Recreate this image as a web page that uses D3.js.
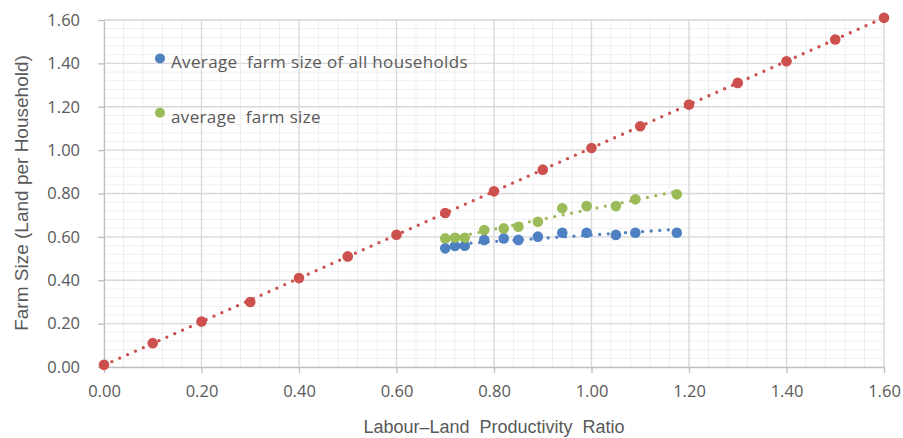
<!DOCTYPE html>
<html>
<head>
<meta charset="utf-8">
<script src="https://cdn.jsdelivr.net/npm/d3@7"></script>
<style>
  html, body { margin: 0; padding: 0; background: #fff; }
  svg { display: block; }
  text { fill: #595959; }
</style>
</head>
<body>
<svg id="chart" width="903" height="438"></svg>
<script>
// ---- data ----
const ratioLine = [0.00, 0.10, 0.20, 0.30, 0.40, 0.50, 0.60, 0.70, 0.80, 0.90, 1.00, 1.10, 1.20, 1.30, 1.40, 1.50, 1.60];
const sizeLine  = [0.01, 0.11, 0.21, 0.30, 0.41, 0.51, 0.61, 0.71, 0.81, 0.91, 1.01, 1.11, 1.21, 1.31, 1.41, 1.51, 1.61];

const ratioObs   = [0.70, 0.72, 0.74, 0.78, 0.82, 0.85, 0.89, 0.94, 0.99, 1.05, 1.09, 1.175];
const sizeAll    = [0.547, 0.558, 0.559, 0.586, 0.593, 0.586, 0.601, 0.619, 0.619, 0.609, 0.619, 0.619];
const sizeAvg    = [0.593, 0.596, 0.596, 0.632, 0.639, 0.647, 0.670, 0.732, 0.742, 0.742, 0.773, 0.796];

const xTicks = [0, 0.2, 0.4, 0.6, 0.8, 1.0, 1.2, 1.4, 1.6];
const yTicks = [0, 0.2, 0.4, 0.6, 0.8, 1.0, 1.2, 1.4, 1.6];
const minorStep = 0.04;

const legendLabels = ["Average  farm size of all households", "average  farm size"];
const xTitle = "Labour\u2013Land  Productivity  Ratio";
const yTitle = "Farm Size (Land per Household)";

const colBlue = "#4F81C2", colGreen = "#9BBB59", colRed = "#CC504D";

// ---- layout ----
const svg = d3.select("#chart");
const x = d3.scaleLinear().domain([0, 1.6]).range([104, 884]);
const y = d3.scaleLinear().domain([0, 1.6]).range([367, 20]);

const minorVals = d3.range(0, 1.6 + 1e-9, minorStep).map(v => +v.toFixed(2));

// minor grid
const g = svg.append("g");
g.selectAll("line.mx").data(minorVals).join("line")
  .attr("x1", d => x(d)).attr("x2", d => x(d)).attr("y1", y(0)).attr("y2", y(1.6))
  .attr("stroke", "#efefef").attr("stroke-width", 1);
g.selectAll("line.my").data(minorVals).join("line")
  .attr("y1", d => y(d)).attr("y2", d => y(d)).attr("x1", x(0)).attr("x2", x(1.6))
  .attr("stroke", "#efefef").attr("stroke-width", 1);
// major grid
g.selectAll("line.Mx").data(xTicks.slice(1)).join("line")
  .attr("x1", d => x(d)).attr("x2", d => x(d)).attr("y1", y(0)).attr("y2", y(1.6))
  .attr("stroke", "#d9d9d9").attr("stroke-width", 1.3);
g.selectAll("line.My").data(yTicks.slice(1)).join("line")
  .attr("y1", d => y(d)).attr("y2", d => y(d)).attr("x1", x(0)).attr("x2", x(1.6))
  .attr("stroke", "#d9d9d9").attr("stroke-width", 1.3);

// axes
const xAxis = d3.axisBottom(x).tickValues(xTicks).tickFormat(d3.format(".2f")).tickSizeInner(6).tickSizeOuter(0).tickPadding(12);
const yAxis = d3.axisLeft(y).tickValues(yTicks).tickFormat(d3.format(".2f")).tickSizeInner(6).tickSizeOuter(0).tickPadding(18);

const gx = svg.append("g").attr("transform", `translate(0,${y(0)})`).call(xAxis);
const gy = svg.append("g").attr("transform", `translate(${x(0)},0)`).call(yAxis);
[gx, gy].forEach(a => {
  a.select(".domain").attr("stroke", "#bfbfbf").attr("stroke-width", 1.3);
  a.selectAll(".tick line").attr("stroke", "#bfbfbf").attr("stroke-width", 1.3);
  a.selectAll(".tick text").attr("font-family", "'Open Sans', sans-serif").attr("font-size", 16.5).attr("fill", "#595959");
});

// trendlines (least squares, from data)
function fit(xs, ys) {
  const mx = d3.mean(xs), my = d3.mean(ys);
  let num = 0, den = 0;
  xs.forEach((xi, i) => { num += (xi - mx) * (ys[i] - my); den += (xi - mx) ** 2; });
  const b = num / den, a = my - b * mx;
  const x0 = d3.min(xs), x1 = d3.max(xs);
  return [[x0, a + b * x0], [x1, a + b * x1]];
}
const line = d3.line().x(d => x(d[0])).y(d => y(d[1]));

function markers(xs, ys, col) {
  svg.append("g").selectAll("circle").data(xs.map((v, i) => [v, ys[i]])).join("circle")
    .attr("cx", d => x(d[0])).attr("cy", d => y(d[1])).attr("r", 5.3).attr("fill", col);
}
function trend(xs, ys, col) {
  svg.append("path").attr("d", line(fit(xs, ys))).attr("fill", "none")
    .attr("stroke", col).attr("stroke-width", 3.3).attr("stroke-linecap", "round")
    .attr("stroke-dasharray", "0 8.6");
}

markers(ratioObs, sizeAll, colBlue);
markers(ratioObs, sizeAvg, colGreen);
markers(ratioLine, sizeLine, colRed);
trend(ratioObs, sizeAll, colBlue);
trend(ratioObs, sizeAvg, colGreen);
trend(ratioLine, sizeLine, colRed);

// legend
const legCols = [colBlue, colGreen];
const leg = svg.append("g");
legendLabels.forEach((lab, i) => {
  const cy = 58.5 + i * 54.3;
  leg.append("circle").attr("cx", 160).attr("cy", cy).attr("r", 5).attr("fill", legCols[i]);
  leg.append("text").attr("x", 171).attr("y", cy + 9.8)
    .attr("font-family", "'Open Sans', sans-serif").attr("font-size", 17)
    .attr("letter-spacing", 0.35)
    .attr("xml:space", "preserve").style("white-space", "pre")
    .text(lab);
});

// axis titles
svg.append("text").attr("x", 494).attr("y", 433).attr("text-anchor", "middle")
  .attr("font-family", "'Liberation Sans', Arial, sans-serif").attr("font-size", 18)
  .style("white-space", "pre").text(xTitle);
svg.append("text").attr("transform", "translate(28,193) rotate(-90)").attr("text-anchor", "middle")
  .attr("font-family", "'Liberation Sans', Arial, sans-serif").attr("font-size", 19)
  .text(yTitle);
</script>
</body>
</html>
